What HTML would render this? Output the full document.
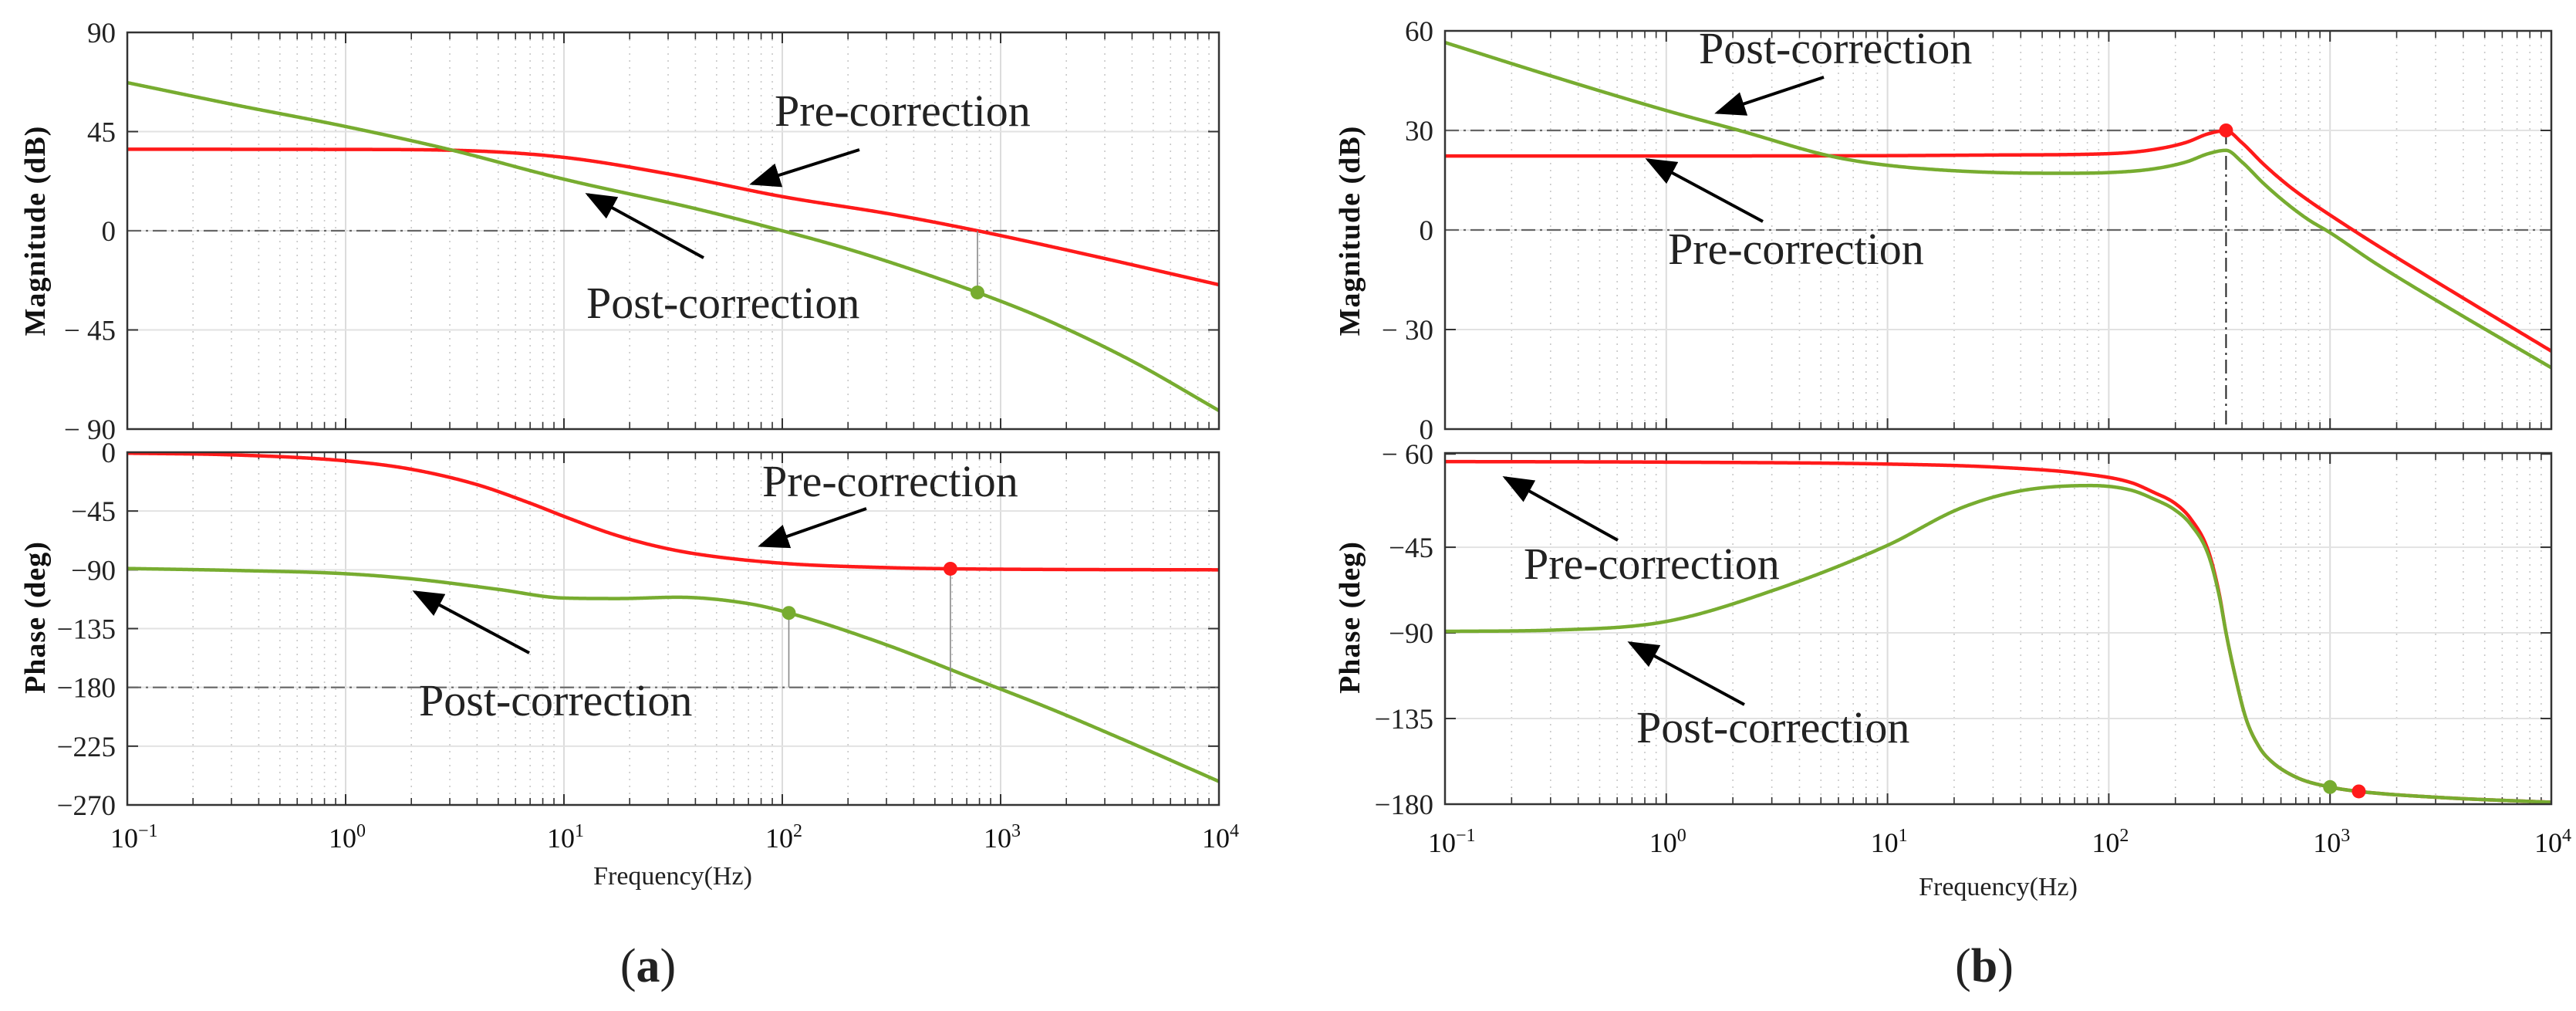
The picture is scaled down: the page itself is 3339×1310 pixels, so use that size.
<!DOCTYPE html>
<html><head><meta charset="utf-8">
<style>
html,body{margin:0;padding:0;background:#fff;}
svg{display:block;}
text{font-family:"Liberation Serif","Times New Roman",serif;}
</style></head>
<body>
<svg id="fig" width="3339" height="1310" viewBox="0 0 3339 1310" xmlns="http://www.w3.org/2000/svg" font-family="Liberation Serif, serif">
<defs>
<marker id="ah" markerWidth="10" markerHeight="8" refX="9" refY="4" orient="auto" markerUnits="strokeWidth">
<path d="M0,0 L10,4 L0,8 Z" fill="#000"/>
</marker>
</defs>
<g id="root"></g>
</svg>
<script>
// ---------- data (log10 frequency, value) ----------
const aMagPreF  = [-1,0,0.5,1,1.5,2,2.5,2.894,3.36,4];
const aMagPreV  = [37,36.9,36.5,33.3,25.4,15.5,7.5,0,-10,-24.5];
const aMagPostF = [-1,-0.5,0,0.47,1,1.6,2,2.25,2.5,2.894,3.2,3.6,4];
const aMagPostV = [67.2,57,47.3,37,23.4,10.1,0,-6.8,-14.5,-28,-40,-59,-81.6];
const aPhPreF   = [-1,-0.5,0,0.3,0.6,0.85,1,1.22,1.4,1.6,2,2.5,2.77,3.2,4];
const aPhPreV   = [-0.7,-2.1,-6.6,-13,-24.7,-39.3,-49.1,-62.5,-71,-77.7,-85,-88.4,-89.2,-89.7,-90];
const aPhPostF  = [-1,-0.5,0,0.34,0.7,1,1.25,1.52,1.85,2.03,2.48,2.85,3.22,3.59,4];
const aPhPostV  = [-89,-90.5,-93,-97.5,-105,-111.6,-112,-111,-116,-123,-147.6,-171.6,-195.8,-222,-252];
const bMagPreF  = [-1,0,1,1.5,2,2.2,2.35,2.45,2.53,2.6,2.7,2.8,2.9,3,3.2,3.5,4];
const bMagPreV  = [22.3,22.3,22.4,22.6,23.0,24.2,26.4,29.0,29.9,26.4,19.8,14.0,9.0,4.5,-4.1,-16.4,-36.5];
const bMagPostF = [-1,-0.5,0,0.33,0.74,1,1.5,1.8,2,2.2,2.35,2.45,2.53,2.6,2.7,2.8,2.9,3,3.2,3.5,4];
const bMagPostV = [56.5,46,36,30,22.3,19.5,17.3,17.1,17.3,18.4,20.5,23,24,20.6,14,8.2,3.2,-0.8,-9.8,-22,-41.5];
const bPhPreF   = [-1,0,1,1.5,1.89,2.1,2.2,2.3,2.37,2.45,2.5,2.53,2.57,2.62,2.68,2.73,2.85,3,3.13,3.5,4];
const bPhPreV   = [0,-0.3,-1.3,-3,-6.5,-11,-16,-22,-30,-47,-70,-90,-112,-135,-150,-157,-166,-171,-173.3,-176.5,-179];
const bPhPostF  = [-1,-0.5,0,0.5,1,1.33,1.6,1.92,2.1,2.2,2.3,2.37,2.45,2.5,2.53,2.57,2.62,2.68,2.73,2.85,3,3.13,3.5,4];
const bPhPostV  = [-89.2,-88.5,-84,-67,-44,-24.5,-15.4,-12.6,-15,-19.5,-25.5,-33,-49,-71,-90,-112,-135,-150,-157,-166,-171,-173.3,-176.5,-179];
const freqTickExp = [-1,0,1,2,3,4];
const aMagTicks = [90,45,0,-45,-90];
const aMagTickLabels = ['90','45','0','− 45','− 90'];
const aPhTicks = [0,-45,-90,-135,-180,-225,-270];
const aPhTickLabels = ['0','−45','−90','−135','−180','−225','−270'];
const bMagTicks = [60,30,0,-30,-60];
const bMagTickLabels = ['60','30','0','− 30','0'];
const bPhTicks = [4,-45,-90,-135,-180];
const bPhTickLabels = ['− 60','−45','−90','−135','−180'];

const NS='http://www.w3.org/2000/svg';
const root=document.getElementById('root');
const SERIF='"Liberation Serif", serif';
function mk(tag,attrs,parent){const e=document.createElementNS(NS,tag);for(const k in attrs)e.setAttribute(k,attrs[k]);(parent||root).appendChild(e);return e;}

function panel(name,x0,x1,y0,y1,vmax,vmin){
  const p={x0,x1,y0,y1,vmax,vmin};
  p.x=l=>x0+(l+1)/5*(x1-x0);
  p.y=v=>y0+(vmax-v)/(vmax-vmin)*(y1-y0);
  const g=mk('g',{});
  
  
  p.g=g;
  return p;
}
function grid(p,ticks,labels,labelX){
  for(let d=-1;d<4;d++){for(let m=2;m<=9;m++){const x=p.x(d+Math.log10(m));
    const l=mk('line',{x1:x,x2:x,y1:p.y0,y2:p.y1,stroke:'#c8c8c8','stroke-width':1.6,'stroke-dasharray':'2,7'},p.g);
    
    mk('line',{x1:x,x2:x,y1:p.y0,y2:p.y0+9,stroke:'#333','stroke-width':1.6},p.g);
    mk('line',{x1:x,x2:x,y1:p.y1,y2:p.y1-9,stroke:'#333','stroke-width':1.6},p.g);}}
  freqTickExp.forEach(e=>{const x=p.x(e);
    const l=mk('line',{x1:x,x2:x,y1:p.y0,y2:p.y1,stroke:'#dcdcdc','stroke-width':2},p.g);
    
    mk('line',{x1:x,x2:x,y1:p.y0,y2:p.y0+14,stroke:'#333','stroke-width':2},p.g);
    mk('line',{x1:x,x2:x,y1:p.y1,y2:p.y1-14,stroke:'#333','stroke-width':2},p.g);});
  ticks.forEach((v,i)=>{const y=p.y(v);
    if(y>p.y0+2&&y<p.y1-2){mk('line',{x1:p.x0,x2:p.x1,y1:y,y2:y,stroke:'#e2e2e2','stroke-width':2},p.g);}
    mk('line',{x1:p.x0,x2:p.x0+14,y1:y,y2:y,stroke:'#333','stroke-width':2},p.g);
    mk('line',{x1:p.x1,x2:p.x1-14,y1:y,y2:y,stroke:'#333','stroke-width':2},p.g);
    const t=mk('text',{x:labelX,y:y+13,'text-anchor':'end','font-size':37,fill:'#222','font-family':SERIF},p.g);
    t.textContent=labels[i];
    });
}
function frame(p){const r=mk('rect',{x:p.x0,y:p.y0,width:p.x1-p.x0,height:p.y1-p.y0,fill:'none',stroke:'#333','stroke-width':2.5},p.g);
  }
function hdash(p,v,xa,xb){const y=p.y(v);const l=mk('line',{x1:xa===undefined?p.x0:xa,x2:xb===undefined?p.x1:xb,y1:y,y2:y,stroke:'#666','stroke-width':2.2,'stroke-dasharray':'18,6,3,6'},p.g);
  }
// monotone cubic (Fritsch-Carlson) interpolation
function mono(F,V){
  const n=F.length,d=[],m=new Array(n);
  for(let i=0;i<n-1;i++)d.push((V[i+1]-V[i])/(F[i+1]-F[i]));
  m[0]=d[0];m[n-1]=d[n-2];
  for(let i=1;i<n-1;i++){m[i]=(d[i-1]*d[i]<=0)?0:(d[i-1]+d[i])/2;}
  for(let i=0;i<n-1;i++){if(d[i]===0){m[i]=0;m[i+1]=0;continue;}
    const a=m[i]/d[i],b=m[i+1]/d[i],s=a*a+b*b;if(s>9){const t=3/Math.sqrt(s);m[i]=t*a*d[i];m[i+1]=t*b*d[i];}}
  return f=>{let i=0;while(i<n-2&&f>F[i+1])i++;
    const h=F[i+1]-F[i],t=(f-F[i])/h,t2=t*t,t3=t2*t;
    return (2*t3-3*t2+1)*V[i]+(t3-2*t2+t)*h*m[i]+(-2*t3+3*t2)*V[i+1]+(t3-t2)*h*m[i+1];};
}
function curve(p,F,V,color,name){
  const fn=mono(F,V);let d='';
  for(let k=0;k<=1000;k++){const f=F[0]+(F[F.length-1]-F[0])*k/1000;
    d+=(k?' L':'M')+p.x(f).toFixed(2)+','+p.y(fn(f)).toFixed(2);}
  const e=mk('path',{d:d,fill:'none',stroke:color,'stroke-width':4.5,'stroke-linejoin':'round'},p.g);
  
}
function interp(F,V,f){return mono(F,V)(f);}
function dot(p,f,v,color,name){const c=mk('circle',{cx:p.x(f),cy:p.y(v),r:9,fill:color},p.g);
  }
function vline(p,f,va,vb,dash,name){const l=mk('line',{x1:p.x(f),x2:p.x(f),y1:p.y(va),y2:p.y(vb),stroke:dash?'#222':'#888','stroke-width':dash?2:1.6,'stroke-dasharray':dash?'18,6,3,6':'none'},p.g);
  }
function xlabels(p,y){freqTickExp.forEach(e=>{const t=mk('text',{x:p.x(e)-22,y:y,'font-size':36,fill:'#111','font-family':SERIF},p.g);
  
  const a=mk('tspan',{},t);a.textContent='10';
  const b=mk('tspan',{dy:-14,'font-size':24},t);b.textContent=e<0?'−'+(-e):String(e);});}
function text(x,y,s,size,name,extra){const t=mk('text',Object.assign({x:x,y:y,'font-size':size,fill:'#222','font-family':SERIF},extra||{}));t.textContent=s;
  return t;}
function arrow(x1,y1,x2,y2,name){const l=mk('line',{x1,y1,x2,y2,stroke:'#000','stroke-width':4,'marker-end':'url(#ah)'});
  }
function ylabel(x,y,s,name){const t=mk('text',{x:0,y:0,'font-size':38,'font-weight':'bold','text-anchor':'middle',fill:'#111','font-family':SERIF,transform:'translate('+x+','+y+') rotate(-90)','letter-spacing':'1'});t.textContent=s;
  }

// ---------- Panel (a) ----------
const aM=panel('a-magnitude-plot',165,1580,42,556,90,-90);
grid(aM,aMagTicks,aMagTickLabels,150);
hdash(aM,0);
curve(aM,aMagPreF,aMagPreV,'#ff1a1a','a-mag-pre-correction');
curve(aM,aMagPostF,aMagPostV,'#77ac30','a-mag-post-correction');
vline(aM,2.894,0,interp(aMagPostF,aMagPostV,2.894),false,'a-crossover-marker');
dot(aM,2.894,interp(aMagPostF,aMagPostV,2.894),'#77ac30','a-mag-post-dot');
frame(aM);

const aP=panel('a-phase-plot',165,1580,586,1043,0,-270);
grid(aP,aPhTicks,aPhTickLabels,150);
hdash(aP,-180);
curve(aP,aPhPreF,aPhPreV,'#ff1a1a','a-phase-pre-correction');
curve(aP,aPhPostF,aPhPostV,'#77ac30','a-phase-post-correction');
vline(aP,2.03,-180,interp(aPhPostF,aPhPostV,2.03),false,'a-post-margin-marker');
vline(aP,2.77,-180,interp(aPhPreF,aPhPreV,2.77),false,'a-pre-margin-marker');
dot(aP,2.03,interp(aPhPostF,aPhPostV,2.03),'#77ac30','a-phase-post-dot');
dot(aP,2.77,interp(aPhPreF,aPhPreV,2.77),'#ff1a1a','a-phase-pre-dot');
frame(aP);
xlabels(aP,1098);
text(872,1146,'Frequency(Hz)',34,'a-x-axis-title',{'text-anchor':'middle'});
ylabel(58,299,'Magnitude (dB)','a-mag-y-axis-title');
ylabel(58,800,'Phase (deg)','a-phase-y-axis-title');

// ---------- Panel (b) ----------
const bM=panel('b-magnitude-plot',1873,3307,40,556,60,-60);
grid(bM,bMagTicks,bMagTickLabels,1858);
hdash(bM,0);
hdash(bM,30,1873,bM.x(2.53));
vline(bM,2.53,30,-60,true,'b-resonance-marker');
curve(bM,bMagPreF,bMagPreV,'#ff1a1a','b-mag-pre-correction');
curve(bM,bMagPostF,bMagPostV,'#77ac30','b-mag-post-correction');
dot(bM,2.53,30,'#ff1a1a','b-mag-peak-dot');
frame(bM);

const bP=panel('b-phase-plot',1873,3307,587,1042,4.5,-180);
grid(bP,bPhTicks,bPhTickLabels,1858);
curve(bP,bPhPreF,bPhPreV,'#ff1a1a','b-phase-pre-correction');
curve(bP,bPhPostF,bPhPostV,'#77ac30','b-phase-post-correction');
dot(bP,3.0,interp(bPhPostF,bPhPostV,3.0),'#77ac30','b-phase-post-dot');
dot(bP,3.13,interp(bPhPreF,bPhPreV,3.13),'#ff1a1a','b-phase-pre-dot');
frame(bP);
xlabels(bP,1104);
text(2590,1160,'Frequency(Hz)',34,'b-x-axis-title',{'text-anchor':'middle'});
ylabel(1762,299,'Magnitude (dB)','b-mag-y-axis-title');
ylabel(1762,800,'Phase (deg)','b-phase-y-axis-title');

// ---------- annotations ----------
text(1004,163,'Pre-correction',58,'a-mag-pre-label');
arrow(1114,194,975,238,'a-mag-pre-arrow');
text(760,412,'Post-correction',58,'a-mag-post-label');
arrow(912,334,762,252,'a-mag-post-arrow');
text(988,643,'Pre-correction',58,'a-phase-pre-label');
arrow(1123,659,986,707,'a-phase-pre-arrow');
text(543,927,'Post-correction',58,'a-phase-post-label');
arrow(686,846,538,767,'a-phase-post-arrow');
text(2202,82,'Post-correction',58,'b-mag-post-label');
arrow(2364,100,2226,146,'b-mag-post-arrow');
text(2162,342,'Pre-correction',58,'b-mag-pre-label');
arrow(2285,287,2136,207,'b-mag-pre-arrow');
text(1975,750,'Pre-correction',58,'b-phase-pre-label');
arrow(2097,700,1951,619,'b-phase-pre-arrow');
text(2121,962,'Post-correction',58,'b-phase-post-label');
arrow(2261,913,2113,833,'b-phase-post-arrow');

// ---------- sub captions ----------
const ca=text(840,1272,'',62,'caption-a',{'text-anchor':'middle'});
const ca1=mk('tspan',{},ca);ca1.textContent='(';
const ca2=mk('tspan',{'font-weight':'bold'},ca);ca2.textContent='a';
const ca3=mk('tspan',{},ca);ca3.textContent=')';
const cb=text(2572,1272,'',62,'caption-b',{'text-anchor':'middle'});
const cb1=mk('tspan',{},cb);cb1.textContent='(';
const cb2=mk('tspan',{'font-weight':'bold'},cb);cb2.textContent='b';
const cb3=mk('tspan',{},cb);cb3.textContent=')';
</script>
</body></html>
